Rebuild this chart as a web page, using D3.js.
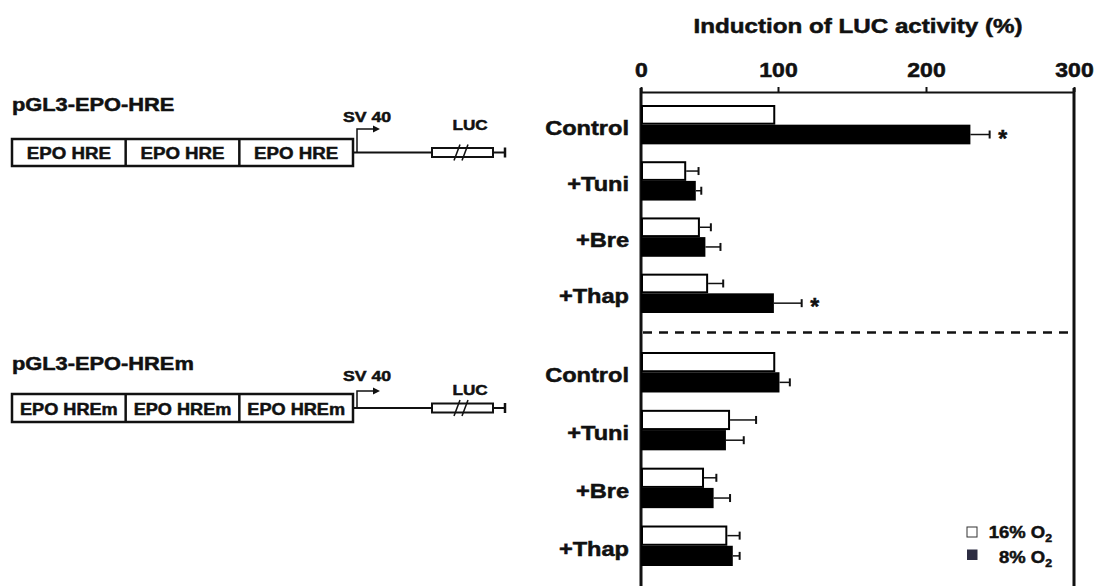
<!DOCTYPE html>
<html>
<head>
<meta charset="utf-8">
<script src="https://cdn.jsdelivr.net/npm/d3@7"></script>
<style>
  body { margin: 0; background: #fff; }
  svg text { font-family: "Liberation Sans", Arial, sans-serif; font-weight: bold; fill: #111;
             stroke: #111; stroke-width: 0.5px; }
</style>
</head>
<body>
<div id="chart"></div>
<script>
// data (% induction of LUC activity)
const categories = ["Control", "+Tuni", "+Bre", "+Thap"];
const series = ["16", "8"];           // % O2
const xTicks = [0, 100, 200, 300];

const hre16    = [98, 33, 43, 49];
const hre16Err = [0, 9, 8, 11];
const hre8     = [230, 40, 47, 97];
const hre8Err  = [13, 4, 11, 19];

const hrem16    = [98, 65, 46, 63];
const hrem16Err = [0, 19, 9, 9];
const hrem8     = [101, 62, 53, 67];
const hrem8Err  = [7, 13, 12, 5];

const hreStars = ["Control", "+Thap"]; // significant in 8% O2, HRE only

const W = 1095, H = 586;
const SX = 1.18; // the figure's lettering is horizontally wide

const svg = d3.select("#chart").append("svg")
    .attr("width", W).attr("height", H);

function label(parent, x, y, str, size, anchor, sx = SX) {
    return parent.append("text")
        .attr("transform", `translate(${x},${y}) scale(${sx},1)`)
        .attr("text-anchor", anchor)
        .style("font-size", size + "px")
        .text(str);
}

// x scale follows the drawn axis (ticks are not perfectly even in the figure)
const x = d3.scaleLinear().domain(xTicks).range([641, 778, 926, 1074]);

const panels = [
    { v16: hre16, e16: hre16Err, v8: hre8, e8: hre8Err, stars: hreStars,
      y: d3.scaleBand().domain(categories).range([105, 313]).paddingInner(0.3) },
    { v16: hrem16, e16: hrem16Err, v8: hrem8, e8: hrem8Err, stars: [],
      y: d3.scaleBand().domain(categories).range([352, 566]).paddingInner(0.3) }
];

// title + axis
label(svg, 858, 33, "Induction of LUC activity (%)", 20.5, "middle");

const axis = svg.append("g")
    .attr("transform", "translate(0,92)")
    .call(d3.axisTop(x).tickValues(xTicks).tickSize(5).tickSizeOuter(0).tickPadding(10));
axis.select(".domain").attr("stroke", "#111").attr("stroke-width", 2);
axis.selectAll(".tick line").attr("stroke", "#111").attr("stroke-width", 2);
axis.selectAll(".tick text")
    .attr("transform", `scale(${SX},1)`)
    .style("font-size", "19.5px")
    .style("font-family", "'Liberation Sans', Arial, sans-serif")
    .style("font-weight", "bold")
    .attr("fill", "#111");

// frame sides
[x(0), x(300)].forEach(px => {
    svg.append("line")
        .attr("x1", px).attr("x2", px).attr("y1", 88).attr("y2", H)
        .attr("stroke", "#111").attr("stroke-width", 3);
});

// separator between the two constructs
const sepY = (panels[0].y.range()[1] + panels[1].y.range()[0]) / 2;
svg.append("line")
    .attr("x1", x(0) + 2).attr("x2", x(300))
    .attr("y1", sepY).attr("y2", sepY)
    .attr("stroke", "#111").attr("stroke-width", 2.5)
    .attr("stroke-dasharray", "9,7");

panels.forEach(p => {
    const inner = d3.scaleBand().domain(series).range([0, p.y.bandwidth()]);
    const g = svg.append("g");
    categories.forEach((c, i) => {
        const y0 = p.y(c);
        label(g, 629, y0 + p.y.bandwidth() / 2 + 10, c, 20, "end");
        const rows = [
            { s: "16", v: p.v16[i], e: p.e16[i], fill: "#fff" },
            { s: "8",  v: p.v8[i],  e: p.e8[i],  fill: "#000" }
        ];
        rows.forEach(r => {
            const ry = y0 + inner(r.s);
            const cy = ry + inner.bandwidth() / 2;
            g.append("rect")
                .attr("x", x(0) + 1).attr("y", ry + 1)
                .attr("width", x(r.v) - x(0) - 2).attr("height", inner.bandwidth() - 2)
                .attr("fill", r.fill).attr("stroke", "#000").attr("stroke-width", 2);
            if (r.e > 0) {
                g.append("line")
                    .attr("x1", x(r.v)).attr("x2", x(r.v + r.e))
                    .attr("y1", cy).attr("y2", cy)
                    .attr("stroke", "#111").attr("stroke-width", 1.5);
                g.append("line")
                    .attr("x1", x(r.v + r.e)).attr("x2", x(r.v + r.e))
                    .attr("y1", cy - 4).attr("y2", cy + 4)
                    .attr("stroke", "#111").attr("stroke-width", 2);
            }
            if (r.s === "8" && p.stars.includes(c)) {
                label(g, x(r.v + r.e) + 13, cy + 12, "*", 23, "middle", 1);
            }
        });
    });
});

// construct diagrams
function construct(o) {
    const g = svg.append("g");
    label(g, 12, o.titleY, o.title, 18.5, "start");
    const bx0 = 12, bx1 = 353, uw = (bx1 - bx0) / 3;
    g.append("rect")
        .attr("x", bx0).attr("y", o.boxTop).attr("width", bx1 - bx0).attr("height", o.boxH)
        .attr("fill", "#fff").attr("stroke", "#111").attr("stroke-width", 2.5);
    for (let k = 0; k < 3; k++) {
        if (k > 0) {
            g.append("line")
                .attr("x1", bx0 + k * uw).attr("x2", bx0 + k * uw)
                .attr("y1", o.boxTop).attr("y2", o.boxTop + o.boxH)
                .attr("stroke", "#111").attr("stroke-width", 2.5);
        }
        label(g, bx0 + uw * (k + 0.5), o.boxTop + o.boxH / 2 + 6.5, o.unit, o.unitSize, "middle", 1.1);
    }
    const ly = o.boxTop + o.boxH / 2;
    // backbone
    g.append("line").attr("x1", bx1).attr("x2", 432).attr("y1", ly).attr("y2", ly)
        .attr("stroke", "#111").attr("stroke-width", 2);
    // SV40 promoter arrow
    g.append("path")
        .attr("d", `M357,${ly}V${o.arrowTop}H374`)
        .attr("fill", "none").attr("stroke", "#111").attr("stroke-width", 1.5);
    g.append("path")
        .attr("d", `M380,${o.arrowTop}L373,${o.arrowTop - 3.5}L373,${o.arrowTop + 3.5}Z`)
        .attr("fill", "#111");
    label(g, 367, o.svY, "SV 40", 15, "middle");
    // LUC gene
    g.append("rect")
        .attr("x", 432).attr("y", ly - 4.5).attr("width", 61).attr("height", 9)
        .attr("fill", "#fff").attr("stroke", "#111").attr("stroke-width", 2);
    [454, 462].forEach(sx => {
        g.append("line")
            .attr("x1", sx).attr("x2", sx + 6).attr("y1", ly + 8).attr("y2", ly - 8)
            .attr("stroke", "#111").attr("stroke-width", 1.5);
    });
    g.append("line").attr("x1", 493).attr("x2", 505).attr("y1", ly).attr("y2", ly)
        .attr("stroke", "#111").attr("stroke-width", 2);
    g.append("line").attr("x1", 505).attr("x2", 505).attr("y1", ly - 5).attr("y2", ly + 5)
        .attr("stroke", "#111").attr("stroke-width", 2.5);
    label(g, 470, o.lucY, "LUC", 14.5, "middle");
}

construct({ title: "pGL3-EPO-HRE", unit: "EPO HRE", unitSize: 17,
            titleY: 111, boxTop: 139, boxH: 27, arrowTop: 129, svY: 122, lucY: 130 });
construct({ title: "pGL3-EPO-HREm", unit: "EPO HREm", unitSize: 16.5,
            titleY: 370, boxTop: 394, boxH: 28, arrowTop: 391, svY: 381, lucY: 395 });

// legend
const leg = svg.append("g");
leg.append("rect").attr("x", 967).attr("y", 527).attr("width", 10).attr("height", 10)
    .attr("fill", "#fff").attr("stroke", "#333").attr("stroke-width", 1);
leg.append("rect").attr("x", 967).attr("y", 549.5).attr("width", 10.5).attr("height", 10.5)
    .attr("fill", "#2d2d42");
[["16", 538], ["8", 563]].forEach(([s, yy]) => {
    const t = label(leg, 1052, yy, "", 16.5, "end", 1.12);
    t.append("tspan").text(s + "% O");
    t.append("tspan").text("2").style("font-size", "11px").attr("dy", 4);
});
</script>
</body>
</html>
